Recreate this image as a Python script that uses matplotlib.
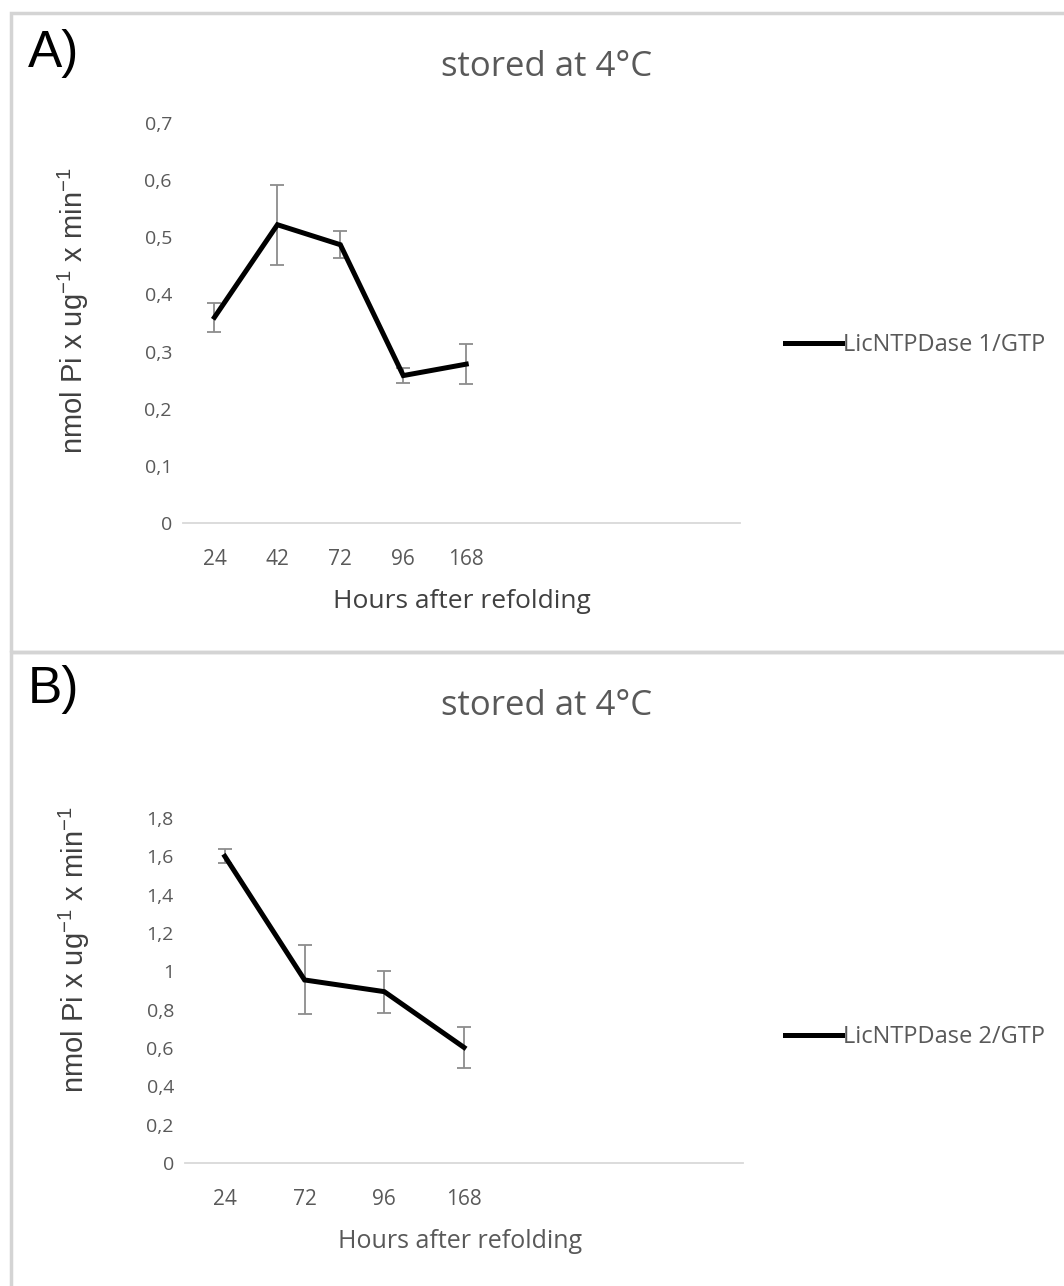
import matplotlib
matplotlib.use("Agg")
import matplotlib.pyplot as plt
from matplotlib.patches import Rectangle
from matplotlib.lines import Line2D

# activity of the two enzymes over storage time at 4 C
hours_a = ["24", "42", "72", "96", "168"]
activity_a = [0.36, 0.522, 0.487, 0.258, 0.278]
err_a = [0.025, 0.07, 0.024, 0.013, 0.035]

hours_b = ["24", "72", "96", "168"]
activity_b = [1.60, 0.955, 0.894, 0.603]
err_b = [0.036, 0.18, 0.11, 0.107]

title = "stored at 4°C"
xlabel = "Hours after refolding"
ylabel = "nmol Pi x ug$^{-1}$ x min$^{-1}$"

plt.rcParams["mathtext.fontset"] = "custom"
plt.rcParams["mathtext.rm"] = "Liberation Sans"
plt.rcParams["mathtext.it"] = "Liberation Sans"

W, H = 1064, 1286
fig = plt.figure(figsize=(W / 100, H / 100), dpi=100)

grey = "#595959"
sans = "Open Sans"


def px(x, y):
    return x / W, 1 - y / H


# panel frames
for (x0, y0, x1, y1) in [(11, 13, 1075, 652), (11, 652, 1075, 1300)]:
    fig.patches.append(Rectangle(px(x0, y1), (x1 - x0) / W, (y1 - y0) / H,
                                 transform=fig.transFigure, fill=False,
                                 edgecolor="#d4d4d4", linewidth=2.5))


def panel(ax, cats, vals, errs, ymax, ystep, yticklabels, label, leg_y,
          ylab_y, xlab_x, xlab_y, xlab_size, xlab_color):
    x = list(range(len(cats)))
    ax.errorbar(x, vals, yerr=errs, fmt="none", ecolor="#8c8c8c",
                elinewidth=1.3, capsize=5, capthick=1.3, zorder=2)
    ax.plot(x, vals, color="black", linewidth=3.6, solid_joinstyle="miter", zorder=3)
    ax.set_ylim(0, ymax)
    ax.set_yticks([i * ystep for i in range(len(yticklabels))])
    ax.set_yticklabels(yticklabels, family=sans, color=grey, fontsize=14)
    ax.set_xticks(x)
    ax.set_xticklabels(cats, family=sans, color=grey, fontsize=15)
    ax.tick_params(axis="both", length=0)
    ax.tick_params(axis="y", pad=8)
    ax.tick_params(axis="x", pad=19)
    for s in ["top", "right", "left"]:
        ax.spines[s].set_visible(False)
    ax.spines["bottom"].set_color("#d9d9d9")
    ax.spines["bottom"].set_linewidth(1.3)
    ax.set_xlabel(xlabel, family=sans, color=xlab_color, fontsize=xlab_size)
    ax.xaxis.set_label_coords(xlab_x, xlab_y)
    ax.set_ylabel(ylabel, family="Liberation Sans", color="#404040", fontsize=21)
    ax.yaxis.set_label_coords(-0.166, ylab_y)
    h = Line2D([], [], color="black", linewidth=3.6)
    ax.legend([h], [label], loc="center left", bbox_to_anchor=px(785, leg_y),
              bbox_transform=fig.transFigure, frameon=False, handlelength=2.4,
              handletextpad=0.05, borderpad=0, borderaxespad=0,
              prop={"family": sans, "size": 17}, labelcolor=grey)


ax_a = fig.add_axes([183 / W, 1 - 523 / H, 557 / W, 400 / H])
ax_a.set_xlim(-0.5, 8.35)
panel(ax_a, hours_a, activity_a, err_a, 0.7, 0.1,
      ["0", "0,1", "0,2", "0,3", "0,4", "0,5", "0,6", "0,7"],
      "LicNTPDase 1/GTP", 345, 0.532, 0.501, -0.165, 19, "#404040")

ax_b = fig.add_axes([185 / W, 1 - 1163 / H, 558 / W, 345 / H])
ax_b.set_xlim(-0.5, 6.5)
panel(ax_b, hours_b, activity_b, err_b, 1.8, 0.2,
      ["0", "0,2", "0,4", "0,6", "0,8", "1", "1,2", "1,4", "1,6", "1,8"],
      "LicNTPDase 2/GTP", 1037, 0.617, 0.493, -0.19, 18, grey)

for ty in [67, 706]:
    fig.text(*px(547, ty), title, family=sans, color=grey, fontsize=25,
             ha="center", va="center")

fig.text(*px(28, 53), "A)", family="Liberation Sans", fontsize=37,
         ha="left", va="center")
fig.text(*px(28, 690), "B)", family="Liberation Sans", fontsize=37,
         ha="left", va="center")

fig.savefig("out.png", dpi=100, facecolor="white")
